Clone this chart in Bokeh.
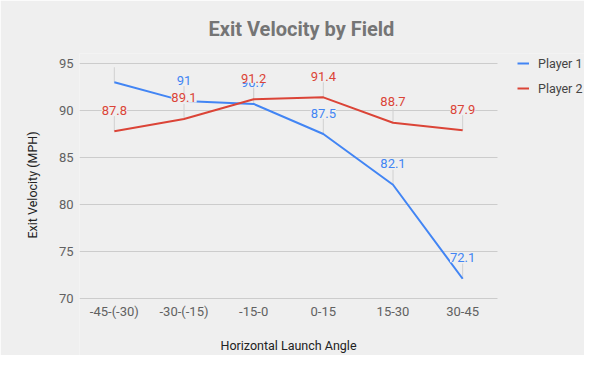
from bokeh.plotting import figure
from bokeh.models import ColumnDataSource, Range1d, FixedTicker, Legend, LegendItem, Title
from bokeh.core.properties import value
from bokeh.embed import file_html
from bokeh.resources import INLINE

categories = ["-45-(-30)", "-30-(-15)", "-15-0", "0-15", "15-30", "30-45"]
player1 = [93.0, 91.0, 90.7, 87.5, 82.1, 72.1]
player2 = [87.8, 89.1, 91.2, 91.4, 88.7, 87.9]
player1_labels = ["", "91", "90.7", "87.5", "82.1", "72.1"]
player2_labels = ["87.8", "89.1", "91.2", "91.4", "88.7", "87.9"]
y_ticks = [70, 75, 80, 85, 90, 95]
x_title = "Horizontal Launch Angle"
y_title = "Exit Velocity (MPH)"

BLUE = "#4285f4"
RED = "#db4437"
BG = "#efefef"
FONT = "Roboto"

n = len(categories)
xpos = [i + 0.5 for i in range(n)]  # category centres on a numeric axis

# frame covers the legend area on the right and the axis-title area below
p = figure(x_range=Range1d(0, n + 1.2488), y_range=Range1d(63.936, 96.064),
           width=584, height=355, output_backend="svg", toolbar_location=None,
           min_border_left=79, min_border_right=0, min_border_top=53, min_border_bottom=0)
p.background_fill_color = BG
p.border_fill_color = BG
p.outline_line_color = None

p.title.text = "Exit Velocity by Field"
p.title.text_font = FONT
p.title.text_font_size = "20px"
p.title.text_font_style = "bold"
p.title.text_color = "#757575"
p.title.align = "left"
p.title.offset = 129
p.title.standoff = 25

p.xgrid.grid_line_color = None
p.ygrid.grid_line_color = None
p.yaxis.ticker = FixedTicker(ticks=y_ticks)
p.xaxis.ticker = FixedTicker(ticks=xpos)
p.xaxis.major_label_overrides = {x: c for x, c in zip(xpos, categories)}
p.xaxis.fixed_location = y_ticks[0]
p.xaxis.bounds = (0, n)

for ax in (p.xaxis[0], p.yaxis[0]):
    ax.axis_line_color = None
    ax.major_tick_line_color = None
    ax.minor_tick_line_color = None
    ax.major_tick_out = 0
    ax.major_tick_in = 0
    ax.minor_tick_out = 0
    ax.minor_tick_in = 0
    ax.major_label_text_font = FONT
    ax.major_label_text_font_size = "13px"
    ax.major_label_text_color = "#616161"

p.xaxis.major_label_standoff = 6
p.yaxis.major_label_standoff = 6

ytitle = Title(text=y_title, align="left", offset=117, standoff=32,
               text_font=FONT, text_font_size="12.5px", text_font_style="normal",
               text_color="#222222")
p.add_layout(ytitle, "left")

# horizontal gridlines across the category area
grid_src = ColumnDataSource(dict(y=y_ticks, x0=[0] * len(y_ticks), x1=[n] * len(y_ticks)))
p.segment(x0="x0", y0="y", x1="x1", y1="y", source=grid_src, line_color="#cccccc", line_width=1)

# x-axis title, centred under the categories
p.text(x=[n / 2], y=[y_ticks[0]], text=[x_title], text_font=value(FONT),
       text_font_size="12.5px", text_color="#222222", text_align="center",
       text_baseline="middle", y_offset=47)

src = ColumnDataSource(dict(x=xpos, p1=player1, p2=player2,
                            l1=player1_labels, l2=player2_labels,
                            s1=[v + 1.6 for v in player1], s2=[v + 1.6 for v in player2]))

# annotation stems
p.segment(x0="x", y0="p1", x1="x", y1="s1", source=src, line_color="#d0d0d0", line_width=1)
p.segment(x0="x", y0="p2", x1="x", y1="s2", source=src, line_color="#d0d0d0", line_width=1)

r1 = p.line("x", "p1", source=src, line_color=BLUE, line_width=2)
r2 = p.line("x", "p2", source=src, line_color=RED, line_width=2)

p.text("x", "p1", text="l1", source=src, text_color=BLUE, text_font=value(FONT),
       text_font_size="13px", text_align="center", text_baseline="middle", y_offset=-21,
       background_fill_color=BG)
p.text("x", "p2", text="l2", source=src, text_color=RED, text_font=value(FONT),
       text_font_size="13px", text_align="center", text_baseline="middle", y_offset=-21,
       background_fill_color=BG)

legend = Legend(items=[LegendItem(label="Player 1", renderers=[r1]),
                       LegendItem(label="Player 2", renderers=[r2])],
                location=(438, 257), orientation="vertical",
                glyph_width=12, glyph_height=20, label_height=20, label_standoff=9,
                spacing=5, padding=0, margin=0,
                label_text_font=FONT, label_text_font_size="12.5px", label_text_color="#444444",
                background_fill_alpha=0, border_line_color=None)
p.add_layout(legend, "center")

open("out.html", "w").write(file_html(p, INLINE))
